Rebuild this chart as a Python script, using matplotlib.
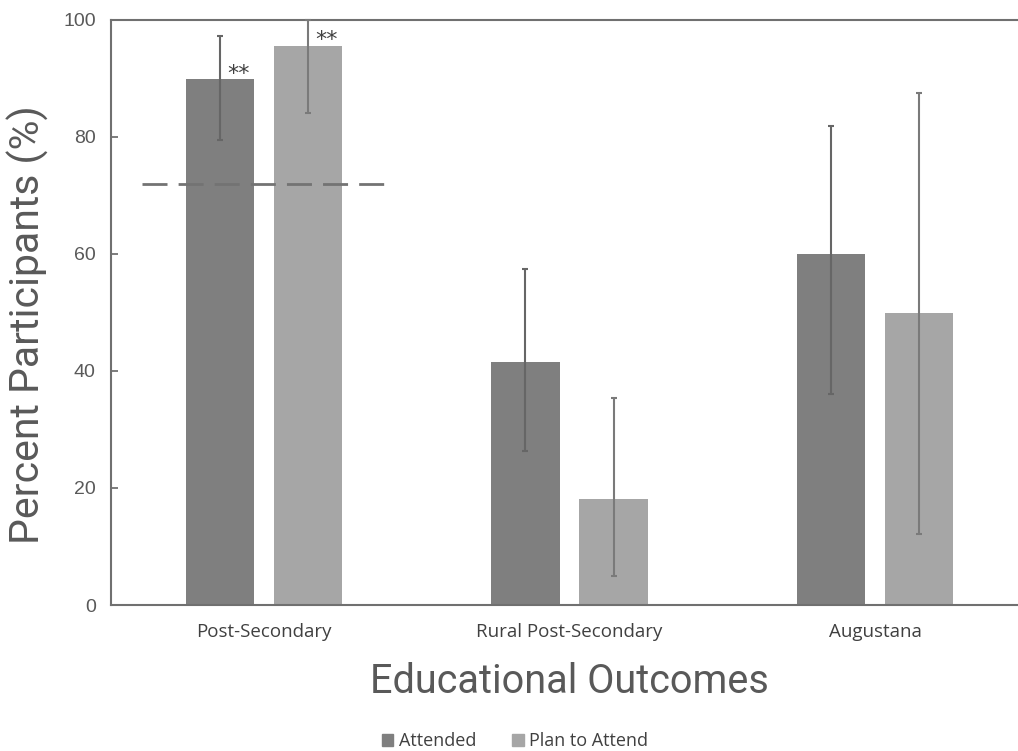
import numpy as np
import matplotlib.pyplot as plt

categories = ["Post-Secondary", "Rural Post-Secondary", "Augustana"]
attended = [90.0, 41.6, 60.0]
attended_low = [79.5, 26.3, 36.1]
attended_high = [97.3, 57.5, 81.9]
plan = [95.6, 18.1, 50.0]
plan_low = [84.1, 5.0, 12.2]
plan_high = [100.0, 35.4, 87.6]
reference_rate = 72.0
yticks = [0, 20, 40, 60, 80, 100]

dark = "#7f7f7f"
light = "#a6a6a6"
text_grey = "#595959"

W, H = 1018, 751
fig = plt.figure(figsize=(W / 100, H / 100), dpi=100)
ax = fig.add_axes([111 / W, 1 - 605 / H, (1028 - 111) / W, (605 - 20) / H])

x = np.arange(len(categories))
width = 0.223
off = 0.144

att = np.array(attended)
pl = np.array(plan)
ax.bar(x - off, att, width, color=dark, zorder=2)
ax.bar(x + off, pl, width, color=light, zorder=2)

ax.errorbar(x - off, att, yerr=[att - np.array(attended_low), np.array(attended_high) - att],
            fmt="none", ecolor="#666666", elinewidth=1.5, capsize=2.5, capthick=1.5, zorder=3)
ax.errorbar(x + off, pl, yerr=[pl - np.array(plan_low), np.array(plan_high) - pl],
            fmt="none", ecolor="#7a7a7a", elinewidth=1.5, capsize=2.5, capthick=1.5, zorder=3,
            clip_on=False)

# population reference line
ax.plot([-0.40, 0.41], [reference_rate, reference_rate], color="#737373", lw=2,
        dashes=(9, 4), zorder=4)

# significance markers
ax.text(x[0] - off + 0.06, attended[0] + 0.7, "**", fontsize=16, color="#404040",
        ha="center", va="center", zorder=5)
ax.text(x[0] + off + 0.06, plan[0] + 1.0, "**", fontsize=16, color="#404040",
        ha="center", va="center", zorder=5)

ax.set_xlim(-0.5, 2.5)
ax.set_ylim(0, 100)
ax.set_yticks(yticks)
ax.set_xticks(x)
ax.set_xticklabels(categories, fontfamily="Open Sans", fontsize=13.5, color="#404040")
ax.tick_params(axis="x", length=0, pad=13)
ax.tick_params(axis="y", direction="in", length=5, width=1.2, color="#666666",
               labelsize=14, labelcolor=text_grey, pad=11)
for lbl in ax.get_yticklabels():
    lbl.set_fontfamily("Liberation Sans")

for side in ["left", "bottom", "top"]:
    ax.spines[side].set_color("#707070")
    ax.spines[side].set_linewidth(1.5)
ax.spines["right"].set_visible(False)

ax.set_ylabel("Percent Participants (%)", fontfamily="Roboto", fontsize=29.5,
              color=text_grey)
ax.yaxis.set_label_coords(-0.068, 0.479)
ax.set_xlabel("Educational Outcomes", fontfamily="Roboto", fontsize=28.5,
              color=text_grey, labelpad=15)

handles = [plt.Rectangle((0, 0), 1, 1, color=dark), plt.Rectangle((0, 0), 1, 1, color=light)]
fig.legend(handles, ["Attended", "Plan to Attend"], loc="center", bbox_to_anchor=(515 / W, 1 - 741 / H),
           ncol=2, frameon=False, handlelength=0.65, handleheight=0.65, handletextpad=0.3,
           columnspacing=2.0, prop={"family": "Open Sans", "size": 13}, labelcolor="#404040")

fig.savefig("out.png", dpi=100)
